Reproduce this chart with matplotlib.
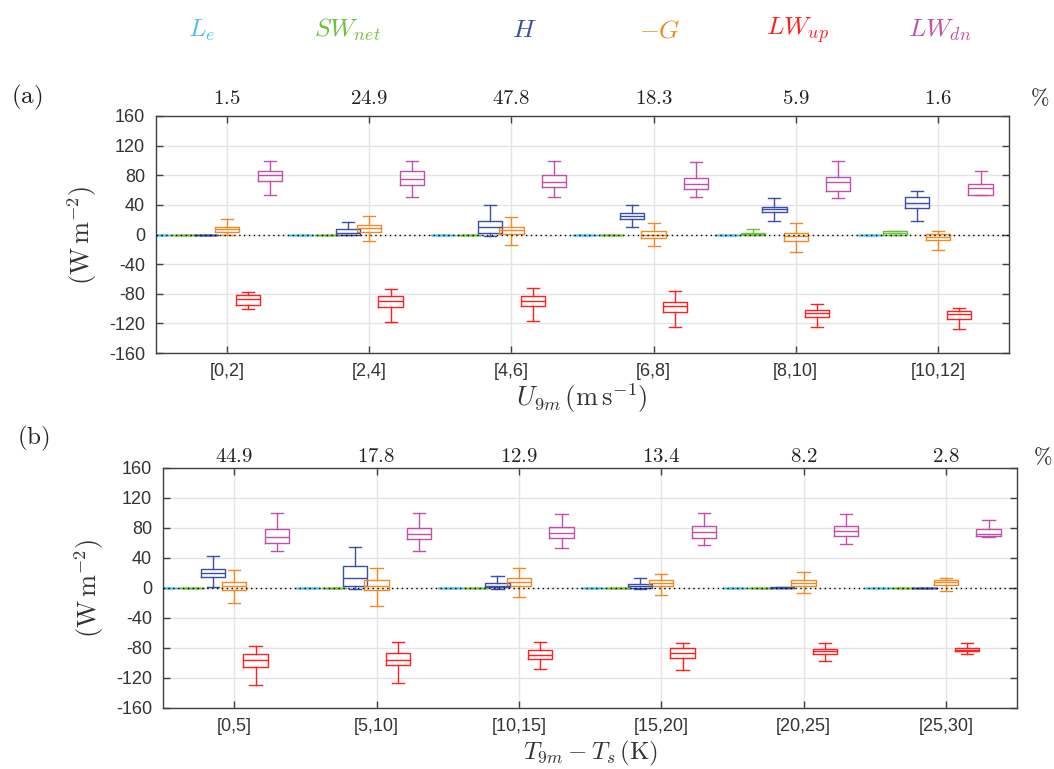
import numpy as np
import matplotlib
matplotlib.use("Agg")
import matplotlib.pyplot as plt

plt.rcParams['mathtext.fontset'] = 'cm'
plt.rcParams['font.family'] = ['Liberation Sans', 'DejaVu Sans']

# ---------------- data ----------------
series_names = [r'$L_e$', r'$SW_{net}$', r'$H$', r'$-G$', r'$LW_{up}$', r'$LW_{dn}$']
series_colors = ['#4DBEEE', '#6CC03C', '#3A4FA8', '#F08A24', '#FF1F1F', '#C050A8']

a_categories = ['[0,2]', '[2,4]', '[4,6]', '[6,8]', '[8,10]', '[10,12]']
b_categories = ['[0,5]', '[5,10]', '[10,15]', '[15,20]', '[20,25]', '[25,30]']
a_percent = ['1.5', '24.9', '47.8', '18.3', '5.9', '1.6']
b_percent = ['44.9', '17.8', '12.9', '13.4', '8.2', '2.8']

yticks = [-160, -120, -80, -40, 0, 40, 80, 120, 160]

# five-number summaries per bin: [whisker low, q1, median, q3, whisker high]
a_Le = [[0, 0, 0, 0, 0], [0, 0, 0, 0, 0], [0, 0, 0, 0, 0],
        [0, 0, 0, 0, 0], [0, 0, 0, 0, 0], [0, 0, 0, 0, 0]]
a_SW = [[0, 0, 0, 0, 0], [0, 0, 0, 0, 0], [0, 0, 0, 0, 0],
        [0, 0, 0, 0, 0], [0, 0, 0.9, 2.7, 7.7], [0, 0, 1.4, 5, 5]]
a_H = [[0, 0, 0, 0, 0], [-1, 0, 2.7, 6.8, 17.1], [-1.8, 2.7, 9.5, 18.5, 40.1],
       [10.4, 21.6, 25.2, 28.8, 39.2], [18.9, 30.2, 34.2, 37.8, 49.6], [18.9, 36, 42.3, 50, 58.1]]
a_G = [[-0.5, 3.2, 6.8, 10.4, 21.2], [-9, 4, 9, 12.6, 25.2], [-14, 0.5, 6.3, 9.9, 24.3],
       [-15.8, -4.1, 0, 4.1, 14.9], [-23.9, -8.6, -2.3, 1.4, 15.8], [-20.3, -7.7, -3.6, 0.5, 5.4]]
a_LWup = [[-101, -95, -86.5, -81.5, -77.9], [-118.5, -97.3, -89.6, -82.9, -73],
          [-117.1, -96.9, -89.2, -82.9, -72.5], [-124.8, -104.5, -96.4, -90.6, -75.7],
          [-124.8, -110.8, -105.4, -101.4, -93.3], [-127, -114, -107.2, -102.7, -99.1]]
a_LWdn = [[53.6, 72.1, 80.6, 85.1, 99.1], [50, 66.2, 75.2, 85.1, 99.6], [50, 64.4, 70.7, 80.6, 99.6],
          [50.9, 60.8, 67.6, 75.7, 98.2], [49.1, 58.1, 71.2, 77.5, 99.1], [52.7, 52.7, 63.1, 68.5, 85.1]]

b_Le = [[0, 0, 0, 0, 0], [0, 0, 0, 0, 0], [0, 0, 0, 0, 0],
        [0, 0, 0, 0, 0], [0, 0, 0, 0, 0], [0, 0, 0, 0, 0]]
b_SW = [[0, 0, 0, 0, 0], [0, 0, 0, 0, 0], [0, 0, 0, 0, 0],
        [0, 0, 0, 0, 0], [0, 0, 0, 0, 0], [0, 0, 0, 0, 0]]
b_H = [[0.9, 14.7, 20, 25.8, 42.2], [-0.9, 3.1, 12.9, 29.3, 55.1], [-1.8, 0.9, 3.1, 7.1, 16.4],
       [-1.3, -0.4, 2.2, 5.3, 12.9], [0, 0, 0, 1, 1], [0, 0, 0, 0, 0]]
b_G = [[-19.6, -2.7, 3.1, 8, 24.4], [-24, -3.1, 3.1, 11.1, 27.1], [-11.6, 2.2, 8, 13.3, 26.2],
       [-9.3, 2.2, 6.2, 10.2, 19.1], [-6.7, 2.7, 6.7, 10.7, 21.3], [-4, 4, 7.6, 10.2, 13.3]]
b_LWup = [[-129.8, -105.3, -96, -88.4, -76.9], [-127.1, -103.1, -96, -86.2, -72.4],
          [-108, -94.7, -89.3, -82.7, -72], [-108.9, -92.9, -86.2, -80, -73.8],
          [-97.3, -88, -84.4, -81.3, -73.3], [-88, -84.4, -82.2, -79.6, -73.3]]
b_LWdn = [[49.8, 59.6, 67.6, 79.1, 100], [49.8, 64.9, 72.4, 80, 100], [53.3, 66.2, 73.8, 81.3, 99.1],
          [57.3, 66.7, 74.2, 82.2, 100], [59.1, 68.9, 76, 82.2, 99.1], [67.6, 69.3, 71.6, 78.7, 91.1]]

a_series = [a_Le, a_SW, a_H, a_G, a_LWup, a_LWdn]
b_series = [b_Le, b_SW, b_H, b_G, b_LWup, b_LWdn]

# ---------------- style ----------------
offsets = [-0.48, -0.30, -0.15, 0.0, 0.15, 0.30]
box_w = 0.17
W, H = 1054, 769
fig = plt.figure(figsize=(W / 100, H / 100), dpi=100)

ax_a = fig.add_axes([156 / W, 1 - 353 / H, (1009 - 156) / W, (353 - 116) / H])
ax_b = fig.add_axes([163 / W, 1 - 708 / H, (1017 - 163) / W, (708 - 468) / H])

spine_c = '#404040'
tick_c = '#333333'


def draw_panel(ax, series, cats):
    pos = np.arange(1, len(cats) + 1)
    ax.set_axisbelow(True)
    ax.grid(True, color='#e4e4e4', linewidth=1.0)
    for s, col, off in zip(series, series_colors, offsets):
        stats = [dict(whislo=v[0], q1=v[1], med=v[2], q3=v[3], whishi=v[4], fliers=[])
                 for v in s]
        lp = dict(color=col, linewidth=1.0)
        ax.bxp(stats, positions=pos + off, widths=box_w, showfliers=False,
               boxprops=lp, whiskerprops=lp, capprops=lp, medianprops=lp,
               manage_ticks=False)
    ax.axhline(0, color='black', linestyle=(0, (1, 2.5)), linewidth=1.0, zorder=5)
    ax.set_xlim(0.5, len(cats) + 0.5)
    ax.set_ylim(-160, 160)
    ax.set_xticks(pos)
    ax.set_xticklabels(cats)
    ax.set_yticks(yticks)
    ax.set_yticklabels([str(t) for t in yticks])
    ax.tick_params(direction='in', length=5, width=1.0, colors=spine_c,
                   labelcolor=tick_c, labelsize=13, top=True, right=True)
    ax.tick_params(axis='y', pad=8)
    ax.tick_params(axis='x', pad=7)
    for sp in ax.spines.values():
        sp.set_color(spine_c)
        sp.set_linewidth(1.0)


draw_panel(ax_a, a_series, a_categories)
draw_panel(ax_b, b_series, b_categories)

# axis labels (serif, LaTeX-like)
txt_c = '#333333'
fig.text(82 / W, 1 - 235 / H, r'$(\mathrm{W\,m^{-2}})$', rotation=90,
         ha='center', va='center', fontsize=19, color=txt_c)
fig.text(89 / W, 1 - 588 / H, r'$(\mathrm{W\,m^{-2}})$', rotation=90,
         ha='center', va='center', fontsize=19, color=txt_c)
fig.text(582 / W, 1 - 398 / H, r'$U_{9m}\,(\mathrm{m\,s^{-1}})$',
         ha='center', va='center', fontsize=19, color=txt_c)
fig.text(590 / W, 1 - 753 / H, r'$T_{9m}-T_s\,(\mathrm{K})$',
         ha='center', va='center', fontsize=18, color=txt_c)

# panel letters
fig.text(27 / W, 1 - 97 / H, r'$\mathrm{(a)}$', ha='center', va='center', fontsize=18, color='#222222')
fig.text(33 / W, 1 - 438 / H, r'$\mathrm{(b)}$', ha='center', va='center', fontsize=18, color='#222222')

# percentages above each bin
for ax, pcts, ypix, pct_x in [(ax_a, a_percent, 98, 1040), (ax_b, b_percent, 457, 1043)]:
    for i, p in enumerate(pcts):
        xf = ax.transData.transform((i + 1, 0))[0]
        fig.text(xf / W, 1 - ypix / H, '$' + p + '$', ha='center', va='center',
                 fontsize=15, color='#222222')
    fig.text(pct_x / W, 1 - (ypix + 1) / H, r'$\%$', ha='center', va='center',
             fontsize=16, color='#222222')

# header legend
header_x = [202, 348, 524, 660, 797, 940]
for name, col, xp in zip(series_names, series_colors, header_x):
    fig.text(xp / W, 1 - 30 / H, name, ha='center', va='center', fontsize=18.5, color=col)

fig.savefig('out.png', dpi=100)
